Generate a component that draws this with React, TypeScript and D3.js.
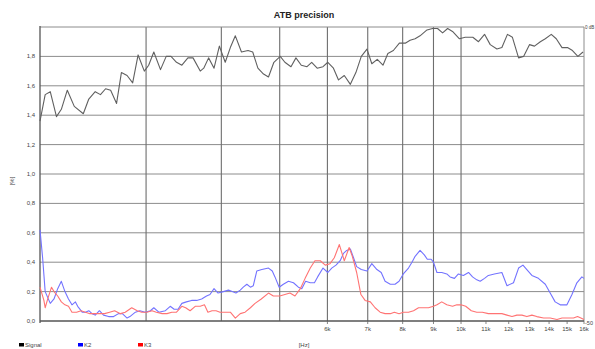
import React from "react";
import * as d3 from "d3";

const TITLE = "ATB precision";

const SIGNAL_HZ = [2000,2040,2080,2130,2170,2220,2280,2360,2410,2470,2520,2570,2620,2680,2730,2790,2850,2910,2980,3030,3090,3170,3240,3300,3370,3440,3520,3590,3690,3740,3810,3890,3970,4060,4140,4220,4320,4430,4510,4600,4700,4790,4890,5010,5100,5220,5320,5430,5550,5650,5770,5900,6010,6140,6260,6400,6550,6690,6830,6980,7110,7260,7420,7560,7720,7900,8080,8230,8390,8550,8780,8970,9140,9320,9500,9680,9940,10160,10460,10690,10940,11180,11470,11690,11940,12170,12460,12700,12990,13240,13540,13800,14120,14390,14710,15020,15310,15630,15940];
const SIGNAL_PCT = [1.36,1.54,1.56,1.39,1.44,1.57,1.46,1.41,1.51,1.56,1.54,1.58,1.57,1.48,1.69,1.67,1.62,1.81,1.70,1.74,1.83,1.71,1.80,1.80,1.76,1.74,1.79,1.79,1.70,1.72,1.79,1.72,1.87,1.76,1.86,1.94,1.83,1.84,1.83,1.72,1.68,1.66,1.76,1.80,1.76,1.73,1.79,1.74,1.73,1.76,1.72,1.73,1.76,1.72,1.64,1.67,1.61,1.69,1.80,1.85,1.75,1.78,1.74,1.82,1.84,1.89,1.89,1.91,1.92,1.94,1.98,1.99,1.99,1.96,1.99,1.97,1.92,1.93,1.93,1.90,1.95,1.88,1.85,1.86,1.95,1.93,1.79,1.80,1.88,1.87,1.90,1.92,1.95,1.92,1.86,1.86,1.84,1.80,1.83];

const K2_HZ = [2000,2020,2040,2080,2110,2140,2170,2200,2230,2260,2290,2310,2350,2380,2410,2440,2470,2510,2550,2600,2650,2700,2740,2790,2820,2880,2930,2990,3050,3090,3150,3230,3290,3340,3390,3440,3500,3570,3640,3710,3780,3830,3890,3950,4030,4110,4170,4230,4300,4350,4410,4470,4520,4580,4670,4790,4860,4910,4990,5070,5170,5270,5370,5440,5520,5620,5710,5780,5900,6010,6100,6200,6300,6380,6460,6550,6630,6710,6830,6980,7110,7250,7370,7480,7630,7770,7890,8020,8180,8290,8390,8550,8690,8790,8920,9000,9120,9290,9470,9590,9750,9900,10090,10290,10450,10620,10760,10940,11100,11360,11690,11920,12220,12460,12670,12860,13110,13440,13800,14060,14330,14610,14990,15280,15570,15870,16000];
const K2_PCT = [0.62,0.43,0.20,0.12,0.15,0.22,0.27,0.20,0.15,0.11,0.13,0.10,0.06,0.06,0.07,0.05,0.04,0.07,0.04,0.03,0.03,0.05,0.05,0.02,0.03,0.06,0.07,0.06,0.07,0.09,0.06,0.07,0.10,0.08,0.08,0.12,0.13,0.14,0.14,0.15,0.17,0.18,0.22,0.19,0.20,0.21,0.20,0.19,0.21,0.23,0.25,0.23,0.24,0.34,0.35,0.36,0.34,0.30,0.23,0.25,0.27,0.26,0.23,0.22,0.27,0.26,0.26,0.30,0.36,0.33,0.36,0.38,0.41,0.46,0.48,0.49,0.43,0.37,0.35,0.34,0.39,0.35,0.33,0.27,0.25,0.25,0.27,0.32,0.36,0.40,0.44,0.48,0.45,0.42,0.42,0.40,0.33,0.33,0.32,0.30,0.29,0.32,0.31,0.33,0.30,0.28,0.27,0.29,0.31,0.32,0.33,0.24,0.26,0.36,0.38,0.35,0.31,0.29,0.25,0.19,0.13,0.11,0.11,0.18,0.26,0.30,0.29];

const K3_HZ = [2000,2030,2040,2060,2090,2110,2140,2170,2200,2230,2260,2300,2340,2380,2420,2470,2520,2560,2610,2660,2720,2770,2840,2900,2950,3010,3070,3120,3190,3250,3310,3370,3440,3490,3550,3620,3690,3750,3800,3860,3920,3980,4060,4140,4220,4300,4380,4470,4550,4660,4790,4880,5000,5100,5200,5300,5410,5510,5620,5720,5840,5950,6060,6160,6280,6400,6520,6600,6710,6820,6930,7070,7200,7340,7480,7630,7750,7890,8020,8180,8340,8500,8660,8830,9000,9120,9290,9470,9680,9840,10000,10180,10400,10620,10850,11100,11360,11470,11690,11920,12150,12380,12620,12860,13110,13360,13710,14060,14430,14710,15080,15370,15610,15810,16000];
const K3_PCT = [0.23,0.14,0.09,0.15,0.23,0.20,0.17,0.13,0.11,0.10,0.06,0.06,0.07,0.06,0.05,0.05,0.05,0.05,0.06,0.07,0.05,0.06,0.09,0.07,0.06,0.06,0.07,0.06,0.05,0.05,0.06,0.06,0.10,0.09,0.07,0.10,0.10,0.11,0.06,0.07,0.07,0.06,0.06,0.06,0.02,0.05,0.06,0.09,0.12,0.15,0.19,0.17,0.17,0.18,0.19,0.17,0.22,0.29,0.36,0.41,0.41,0.38,0.39,0.43,0.52,0.41,0.50,0.44,0.33,0.18,0.14,0.13,0.09,0.06,0.05,0.05,0.06,0.05,0.06,0.06,0.07,0.09,0.09,0.09,0.10,0.11,0.13,0.11,0.10,0.11,0.11,0.10,0.07,0.06,0.06,0.05,0.05,0.05,0.05,0.04,0.03,0.04,0.04,0.03,0.04,0.03,0.02,0.02,0.01,0.02,0.02,0.02,0.03,0.02,0.01];

const X_GRID_HZ = [3000,4000,5000,6000,7000,8000,9000,10000];
const X_TICK_HZ = [6000,7000,8000,9000,10000,11000,12000,13000,14000,15000,16000];
const X_TICK_LABELS = ["6k","7k","8k","9k","10k","11k","12k","13k","14k","15k","16k"];
const Y_TICKS = [0,0.2,0.4,0.6,0.8,1.0,1.2,1.4,1.6,1.8];
const Y_TICK_LABELS = ["0,0","0,2","0,4","0,6","0,8","1,0","1,2","1,4","1,6","1,8"];
const SERIES_NAMES = ["Signal","K2","K3"];
const SERIES_COLORS = ["#606060","#7373ff","#ff7373"];
const LEGEND_COLORS = ["#000000","#0000ff","#ff0000"];

const W = 595, H = 349;
const M = { left: 40, right: 584, top: 27, bottom: 321 };
const FONT = "'Liberation Sans', Arial, sans-serif";

export default function App() {
  const x = d3.scaleLog().domain([2000, 16000]).range([M.left, M.right]);
  const y = d3.scaleLinear().domain([0, 2]).range([M.bottom, M.top]);
  const line = d3.line<[number, number]>().x(d => x(d[0])).y(d => y(d[1]));
  const series = [
    SIGNAL_HZ.map((f, i) => [f, SIGNAL_PCT[i]] as [number, number]),
    K2_HZ.map((f, i) => [f, K2_PCT[i]] as [number, number]),
    K3_HZ.map((f, i) => [f, K3_PCT[i]] as [number, number]),
  ];
  const legendX = [19, 78, 138];
  return (
    <svg width={W} height={H} style={{ position: "absolute", left: 0, top: 0, background: "#fff" }} fontFamily={FONT}>
      <rect x={0} y={0} width={W} height={H} fill="#fff" />
      <text x={304} y={18} textAnchor="middle" fontSize={9} fontWeight="bold" fill="#222">{TITLE}</text>
      {Y_TICKS.filter(v => v > 0).map(v => (
        <line key={"h" + v} x1={M.left} x2={M.right} y1={y(v)} y2={y(v)} stroke="#8c8c8c" strokeWidth={1} />
      ))}
      {X_GRID_HZ.map(f => (
        <line key={"v" + f} x1={x(f)} x2={x(f)} y1={M.top} y2={M.bottom} stroke="#6e6e6e" strokeWidth={1.1} />
      ))}
      <line x1={M.left} x2={M.right} y1={M.top} y2={M.top} stroke="#8c8c8c" strokeWidth={1} />
      <line x1={M.right} x2={M.right} y1={M.top} y2={M.bottom} stroke="#8c8c8c" strokeWidth={1} />
      <line x1={M.left} x2={M.left} y1={M.top - 1} y2={M.bottom + 2} stroke="#555" strokeWidth={1.3} />
      <line x1={M.left} x2={M.right} y1={M.bottom} y2={M.bottom} stroke="#555" strokeWidth={1.6} />
      {X_TICK_HZ.map(f => (
        <line key={"t" + f} x1={x(f)} x2={x(f)} y1={M.bottom} y2={M.bottom + 3} stroke="#666" strokeWidth={0.8} />
      ))}
      {Y_TICKS.map((v, i) => (
        <text key={"yl" + v} x={35} y={y(v) + 2} textAnchor="end" fontSize={6} fill="#444">{Y_TICK_LABELS[i]}</text>
      ))}
      {X_TICK_HZ.map((f, i) => (
        <text key={"xl" + f} x={x(f)} y={331} textAnchor="middle" fontSize={6} fill="#444">{X_TICK_LABELS[i]}</text>
      ))}
      <text x={304} y={347} textAnchor="middle" fontSize={6} fill="#444">[Hz]</text>
      <text transform={`translate(14,181) rotate(-90)`} textAnchor="middle" fontSize={6} fill="#444">[%]</text>
      <text x={585} y={29} fontSize={4.5} fill="#444">0 dB</text>
      <text x={585} y={325} fontSize={5.5} fill="#444">-50</text>
      {series.map((s, i) => (
        <path key={"s" + i} d={line(s) || ""} fill="none" stroke={SERIES_COLORS[i]} strokeWidth={1.1} strokeLinejoin="round" />
      ))}
      {SERIES_NAMES.map((n, i) => (
        <g key={"lg" + n}>
          <rect x={legendX[i]} y={343} width={5} height={3.5} fill={LEGEND_COLORS[i]} />
          <text x={legendX[i] + 6} y={347} fontSize={6} fill="#444">{n}</text>
        </g>
      ))}
    </svg>
  );
}
